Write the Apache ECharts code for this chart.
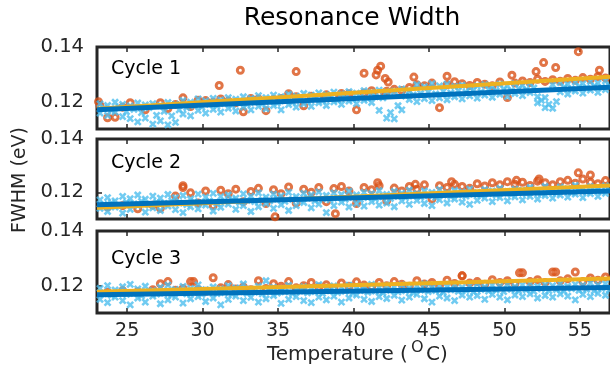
<!DOCTYPE html>
<html>
<head>
<meta charset="utf-8">
<script src="https://cdn.jsdelivr.net/npm/echarts@6/dist/echarts.min.js"></script>
<style>html,body{margin:0;padding:0;background:#fff;}#c{width:610px;height:373px;}</style>
</head>
<body>
<div id="c"></div>
<script>
// ---------- data ----------
const temps = [
 23.2,23.7,24.2,24.7,25.2,25.7,26.2,26.7,27.2,27.7,
 28.2,28.7,29.2,29.7,30.2,30.7,31.2,31.7,32.2,32.7,
 33.2,33.7,34.2,34.7,35.2,35.7,36.2,36.7,37.2,37.7,
 38.2,38.7,39.2,39.7,40.2,40.7,41.2,41.7,42.2,42.7,
 43.2,43.7,44.2,44.7,45.2,45.7,46.2,46.7,47.2,47.7,
 48.2,48.7,49.2,49.7,50.2,50.7,51.2,51.7,52.2,52.7,
 53.2,53.7,54.2,54.7,55.2,55.7,56.2,56.7];
const tempsMid = [
 23.45,23.95,24.45,24.95,25.45,25.95,26.45,26.95,27.45,27.95,
 28.45,28.95,29.45,29.95,30.45,30.95,31.45,31.95,32.45,32.95,
 33.45,33.95,34.45,34.95,35.45,35.95,36.45,36.95,37.45,37.95,
 38.45,38.95,39.45,39.95,40.45,40.95,41.45,41.95,42.45,42.95,
 43.45,43.95,44.45,44.95,45.45,45.95,46.45,46.95,47.45,47.95,
 48.45,48.95,49.45,49.95,50.45,50.95,51.45,51.95,52.45,52.95,
 53.45,53.95,54.45,54.95,55.45,55.95,56.45,56.95];
const xTicks = [25,30,35,40,45,50,55];
const yTicks = [0.12,0.14];
const yMinorTicks = [0.12];
const cycleNames = ['Cycle 1','Cycle 2','Cycle 3'];
const fitTemps = [23,57];

// Cycle 1
const c1BlueHi = [
 0.1192,0.1186,0.1198,0.1190,0.1184,0.1195,0.1188,0.1193,0.1186,0.1197,
 0.1190,0.1204,0.1198,0.1210,0.1203,0.1212,0.1206,0.1215,0.1209,0.1218,
 0.1212,0.1222,0.1215,0.1224,0.1218,0.1227,0.1220,0.1230,0.1224,0.1232,
 0.1226,0.1235,0.1228,0.1237,0.1231,0.1240,0.1234,0.1242,0.1236,0.1238,
 0.1247,0.1240,0.1262,0.1255,0.1266,0.1258,0.1264,0.1256,0.1260,0.1252,
 0.1258,0.1262,0.1255,0.1264,0.1258,0.1266,0.1260,0.1268,0.1218,0.1215,
 0.1262,0.1270,0.1264,0.1272,0.1266,0.1274,0.1268,0.1276];
const c1BlueMid = [
 0.1175,0.1168,0.1180,0.1163,0.1172,0.1160,0.1178,0.1150,0.1165,0.1148,
 0.1170,0.1178,0.1185,0.1180,0.1190,0.1184,0.1193,0.1187,0.1196,0.1190,
 0.1198,0.1192,0.1201,0.1195,0.1203,0.1198,0.1206,0.1200,0.1208,0.1203,
 0.1211,0.1205,0.1214,0.1208,0.1216,0.1211,0.1218,0.1214,0.1160,0.1185,
 0.1220,0.1225,0.1230,0.1235,0.1228,0.1238,0.1232,0.1240,0.1235,0.1242,
 0.1236,0.1244,0.1240,0.1246,0.1241,0.1248,0.1244,0.1250,0.1205,0.1190,
 0.1200,0.1252,0.1247,0.1255,0.1250,0.1257,0.1252,0.1258];
const c1BlueLo = [
 0.1158,0.1150,0.1162,0.1145,0.1138,0.1126,0.1140,0.1118,0.1130,0.1115,
 0.1124,0.1155,0.1148,0.1168,0.1158,0.1172,0.1162,0.1176,0.1166,0.1180,
 0.1170,0.1183,0.1174,0.1186,0.1170,0.1189,0.1180,0.1192,0.1183,0.1196,
 0.1186,0.1199,0.1190,0.1202,0.1193,0.1205,0.1197,0.1168,0.1140,0.1137,
 0.1170,0.1208,0.1200,0.1211,0.1204,0.1214,0.1207,0.1218,0.1210,0.1221,
 0.1213,0.1224,0.1216,0.1227,0.1219,0.1230,0.1222,0.1233,0.1196,0.1178,
 0.1176,0.1236,0.1228,0.1239,0.1231,0.1242,0.1234,0.1244];
const c1Orange = [
 0.1186,0.1141,0.1143,0.1180,0.1196,null,0.1170,null,0.1196,0.1175,
 0.1190,0.1214,0.1182,0.1205,0.1204,0.1198,0.1210,0.1202,0.1196,0.1163,
 0.1212,0.1210,0.1167,0.1208,0.1212,0.1229,0.1218,0.1185,0.1220,0.1213,
 0.1225,0.1218,0.1230,0.1229,0.1170,0.1232,0.1240,0.1226,0.1238,0.1245,
 0.1241,0.1252,0.1262,0.1258,0.1268,0.1178,0.1262,0.1273,0.1266,0.1259,
 0.1270,0.1264,0.1258,0.1272,0.1215,0.1268,0.1276,0.1270,0.1282,0.1274,
 0.1280,0.1275,0.1285,0.1278,0.1288,0.1282,0.1292,0.1287];
const c1OrangeOut = [
 [32.5,0.1315],[36.2,0.1310],[31.1,0.1259],[40.7,0.1304],[41.8,0.1330],
 [41.6,0.1315],[41.5,0.1298],[42.1,0.1285],[42.3,0.1272],[44.0,0.1290],
 [46.2,0.1293],[50.5,0.1297],[52.1,0.1310],[52.6,0.1343],[53.4,0.1325],
 [54.9,0.1383],[56.3,0.1315],[23.1,0.1200]];
const c1FitBlue = [0.1170,0.1253];
const c1FitOrange = [0.1174,0.1291];

// Cycle 2
const c2BlueHi = [
 0.1172,0.1180,0.1168,0.1185,0.1176,0.1190,0.1174,0.1186,0.1178,0.1192,
 0.1180,0.1188,0.1175,0.1193,0.1182,0.1196,0.1184,0.1190,0.1178,0.1194,
 0.1186,0.1198,0.1182,0.1193,0.1187,0.1200,0.1184,0.1196,0.1190,0.1202,
 0.1188,0.1198,0.1192,0.1204,0.1190,0.1200,0.1195,0.1206,0.1192,0.1203,
 0.1197,0.1208,0.1195,0.1205,0.1200,0.1210,0.1198,0.1207,0.1202,0.1212,
 0.1200,0.1210,0.1205,0.1215,0.1203,0.1212,0.1208,0.1218,0.1206,0.1222,
 0.1210,0.1220,0.1214,0.1226,0.1212,0.1222,0.1216,0.1224];
const c2BlueMid = [
 0.1155,0.1160,0.1150,0.1162,0.1157,0.1166,0.1152,0.1163,0.1158,0.1168,
 0.1160,0.1154,0.1165,0.1160,0.1168,0.1158,0.1166,0.1172,0.1162,0.1170,
 0.1165,0.1172,0.1168,0.1175,0.1166,0.1174,0.1170,0.1178,0.1168,0.1176,
 0.1172,0.1178,0.1174,0.1181,0.1173,0.1180,0.1176,0.1183,0.1177,0.1185,
 0.1180,0.1186,0.1182,0.1188,0.1181,0.1190,0.1184,0.1191,0.1186,0.1193,
 0.1188,0.1195,0.1190,0.1197,0.1192,0.1198,0.1194,0.1200,0.1195,0.1202,
 0.1197,0.1204,0.1199,0.1206,0.1201,0.1207,0.1203,0.1208];
const c2BlueLo = [
 0.1140,0.1128,0.1145,0.1122,0.1136,0.1150,0.1126,0.1142,0.1132,0.1148,
 0.1135,0.1124,0.1146,0.1138,0.1152,0.1130,0.1144,0.1156,0.1136,0.1150,
 0.1128,0.1146,0.1158,0.1140,0.1154,0.1132,0.1150,0.1162,0.1142,0.1156,
 0.1124,0.1150,0.1163,0.1145,0.1158,0.1148,0.1165,0.1152,0.1160,0.1146,
 0.1168,0.1155,0.1170,0.1158,0.1150,0.1172,0.1160,0.1175,0.1163,0.1155,
 0.1170,0.1178,0.1165,0.1180,0.1168,0.1183,0.1172,0.1185,0.1175,0.1188,
 0.1178,0.1190,0.1182,0.1193,0.1180,0.1195,0.1185,0.1196];
const c2Orange = [
 null,0.1145,null,0.1150,null,0.1138,null,0.1152,0.1140,null,
 0.1186,0.1218,0.1198,0.1160,0.1205,0.1150,0.1208,0.1195,0.1212,0.1165,
 0.1203,0.1215,0.1158,0.1210,0.1195,0.1220,0.1160,0.1212,0.1200,0.1218,
 0.1165,0.1214,0.1222,0.1205,0.1158,0.1218,0.1210,0.1225,0.1168,0.1216,
 0.1205,0.1222,0.1212,0.1228,0.1175,0.1225,0.1218,0.1230,0.1222,0.1215,
 0.1232,0.1224,0.1236,0.1228,0.1240,0.1230,0.1238,0.1226,0.1242,0.1236,
 0.1228,0.1240,0.1245,0.1234,0.1250,0.1238,0.1232,0.1244];
const c2OrangeOut = [
 [34.8,0.1108],[38.8,0.1120],[41.6,0.1236],[54.9,0.1273],[55.7,0.1265],
 [46.5,0.1240],[44.1,0.1230],[28.7,0.1225],[52.3,0.1250],[50.8,0.1245]];
const c2FitBlue = [0.1153,0.1205];
const c2FitOrange = [0.1142,0.1226];

// Cycle 3
const c3BlueHi = [
 0.1190,0.1200,0.1184,0.1196,0.1205,0.1188,0.1198,0.1182,0.1194,0.1202,
 0.1186,0.1197,0.1190,0.1203,0.1185,0.1195,0.1188,0.1200,0.1192,0.1206,
 0.1187,0.1198,0.1218,0.1194,0.1190,0.1201,0.1186,0.1196,0.1192,0.1204,
 0.1189,0.1199,0.1193,0.1202,0.1190,0.1197,0.1205,0.1192,0.1200,0.1195,
 0.1203,0.1191,0.1199,0.1206,0.1193,0.1201,0.1196,0.1204,0.1194,0.1200,
 0.1207,0.1195,0.1202,0.1198,0.1205,0.1196,0.1203,0.1209,0.1197,0.1204,
 0.1200,0.1208,0.1198,0.1205,0.1201,0.1210,0.1203,0.1207];
const c3BlueMid = [
 0.1170,0.1165,0.1174,0.1168,0.1172,0.1163,0.1175,0.1169,0.1173,0.1166,
 0.1176,0.1170,0.1174,0.1168,0.1177,0.1171,0.1175,0.1169,0.1178,0.1172,
 0.1176,0.1170,0.1179,0.1173,0.1177,0.1171,0.1180,0.1174,0.1178,0.1172,
 0.1181,0.1175,0.1179,0.1173,0.1182,0.1176,0.1180,0.1174,0.1183,0.1177,
 0.1181,0.1175,0.1184,0.1178,0.1182,0.1176,0.1185,0.1179,0.1183,0.1177,
 0.1186,0.1180,0.1184,0.1178,0.1187,0.1181,0.1185,0.1179,0.1188,0.1182,
 0.1186,0.1180,0.1189,0.1183,0.1187,0.1181,0.1190,0.1184];
const c3BlueLo = [
 0.1150,0.1138,0.1158,0.1145,0.1130,0.1155,0.1140,0.1162,0.1134,0.1148,
 0.1158,0.1136,0.1152,0.1160,0.1142,0.1155,0.1130,0.1150,0.1162,0.1145,
 0.1157,0.1140,0.1152,0.1164,0.1135,0.1150,0.1160,0.1145,0.1138,0.1158,
 0.1148,0.1162,0.1140,0.1155,0.1166,0.1150,0.1142,0.1160,0.1153,0.1165,
 0.1147,0.1158,0.1168,0.1152,0.1140,0.1162,0.1155,0.1145,0.1166,0.1158,
 0.1164,0.1150,0.1168,0.1158,0.1148,0.1166,0.1160,0.1170,0.1155,0.1164,
 0.1158,0.1170,0.1162,0.1148,0.1168,0.1160,0.1172,0.1165];
const c3Orange = [
 null,0.1176,null,0.1182,null,0.1178,null,0.1185,0.1207,0.1215,
 0.1183,0.1190,0.1215,0.1186,0.1180,0.1229,0.1192,0.1204,0.1188,0.1195,
 0.1185,0.1218,0.1190,0.1207,0.1198,0.1215,0.1192,0.1200,0.1212,0.1195,
 0.1203,0.1190,0.1210,0.1198,0.1214,0.1202,0.1196,0.1212,0.1200,0.1215,
 0.1205,0.1198,0.1218,0.1206,0.1212,0.1200,0.1220,0.1208,0.1236,0.1210,
 0.1215,0.1205,0.1222,0.1212,0.1218,0.1208,0.1247,0.1215,0.1222,0.1212,
 0.1250,0.1218,0.1225,0.1250,0.1215,0.1228,0.1220,0.1232];
const c3OrangeOut = [[51.0,0.1247],[53.4,0.1250],[47.2,0.1236],[29.4,0.1215]];
const c3FitBlue = [0.1167,0.1193];
const c3FitOrange = [0.1178,0.1226];

// ---------- chart ----------
const FONT = 'DejaVu Sans';
const INK = '#262626';
const panels = [
 {hi:c1BlueHi, mid:c1BlueMid, lo:c1BlueLo, orange:c1Orange, out:c1OrangeOut, fb:c1FitBlue, fo:c1FitOrange},
 {hi:c2BlueHi, mid:c2BlueMid, lo:c2BlueLo, orange:c2Orange, out:c2OrangeOut, fb:c2FitBlue, fo:c2FitOrange},
 {hi:c3BlueHi, mid:c3BlueMid, lo:c3BlueLo, orange:c3Orange, out:c3OrangeOut, fb:c3FitBlue, fo:c3FitOrange}
];
const tops = [47, 139, 231];
const heights = [82, 80, 82];
const pairs = (ts, arr) => ts.map((t,i)=>[t, arr[i]]).filter(d => d[1] !== null);
const xMark = 'path://M0,0L10,10M10,0L0,10';
const blueStyle = {color:'rgba(0,0,0,0)', borderColor:'#4DBEEE', borderWidth:2.6};

const grid=[], xAxis=[], yAxis=[], series=[];
panels.forEach((p,k)=>{
  grid.push({left:97, top:tops[k], width:519, height:heights[k], show:true,
    borderWidth:3, borderColor:INK, backgroundColor:'#fff'});
  const tick = {show:true, inside:true, length:5, customValues:xTicks, lineStyle:{color:INK, width:1.5}};
  xAxis.push({type:'value', gridIndex:k, min:23, max:57, position:'bottom',
    axisLine:{show:false}, splitLine:{show:false}, axisTick:tick,
    axisLabel:{show:k===2, customValues:xTicks, fontSize:19, color:INK, margin:9, fontFamily:FONT}});
  xAxis.push({type:'value', gridIndex:k, min:23, max:57, position:'top',
    axisLine:{show:false}, splitLine:{show:false}, axisTick:tick, axisLabel:{show:false}});
  yAxis.push({type:'value', gridIndex:k, min:0.11, max:0.14,
    axisLine:{show:false}, splitLine:{show:false},
    axisTick:{show:true, inside:true, length:5, customValues:yMinorTicks, lineStyle:{color:INK, width:1.5}},
    axisLabel:{customValues:yTicks, formatter:v=>v.toFixed(2), fontSize:19.5, color:INK, margin:13, fontFamily:FONT}});
  const xi = 2*k;
  series.push({type:'scatter', xAxisIndex:xi, yAxisIndex:k, data:pairs(temps, p.orange).concat(p.out),
    symbol:'circle', symbolSize:6, itemStyle:{color:'rgba(255,255,255,0)', borderColor:'#D95319', borderWidth:3}, z:2});
  [[temps,p.hi],[tempsMid,p.mid],[temps,p.lo]].forEach(([ts,arr])=>{
    series.push({type:'scatter', xAxisIndex:xi, yAxisIndex:k, data:pairs(ts, arr),
      symbol:xMark, symbolSize:6, itemStyle:blueStyle, z:3});
  });
  series.push({type:'line', xAxisIndex:xi, yAxisIndex:k, data:fitTemps.map((t,i)=>[t,p.fo[i]]),
    showSymbol:false, lineStyle:{color:'#EDB120', width:4}, z:4});
  series.push({type:'line', xAxisIndex:xi, yAxisIndex:k, data:fitTemps.map((t,i)=>[t,p.fb[i]]),
    showSymbol:false, lineStyle:{color:'#0072BD', width:5}, z:5});
});

const cycleY = [69, 163, 259];
const graphic = [
  {type:'text', x:352, y:18, style:{text:'Resonance Width', font:'25px "DejaVu Sans"', fill:'#000', textAlign:'center', textVerticalAlign:'middle'}},
  {type:'text', x:20, y:180, rotation:Math.PI/2, style:{text:'FWHM (eV)', font:'19px "DejaVu Sans"', fill:INK, textAlign:'center', textVerticalAlign:'middle'}},
  {type:'text', x:267, y:355, style:{text:'Temperature (', font:'20px "DejaVu Sans"', fill:INK, textAlign:'left', textVerticalAlign:'middle'}},
  {type:'text', x:411, y:348, style:{text:'O', font:'16px "DejaVu Sans"', fill:INK, textAlign:'left', textVerticalAlign:'middle'}},
  {type:'text', x:426, y:355, style:{text:'C)', font:'20px "DejaVu Sans"', fill:INK, textAlign:'left', textVerticalAlign:'middle'}}
];
cycleNames.forEach((n,k)=>graphic.push({type:'text', x:111, y:cycleY[k], z:10,
  style:{text:n, font:'19px "DejaVu Sans"', fill:'#000', textAlign:'left', textVerticalAlign:'middle'}}));

const chart = echarts.init(document.getElementById('c'));
chart.setOption({animation:false, grid, xAxis, yAxis, series, graphic});
</script>
</body>
</html>
